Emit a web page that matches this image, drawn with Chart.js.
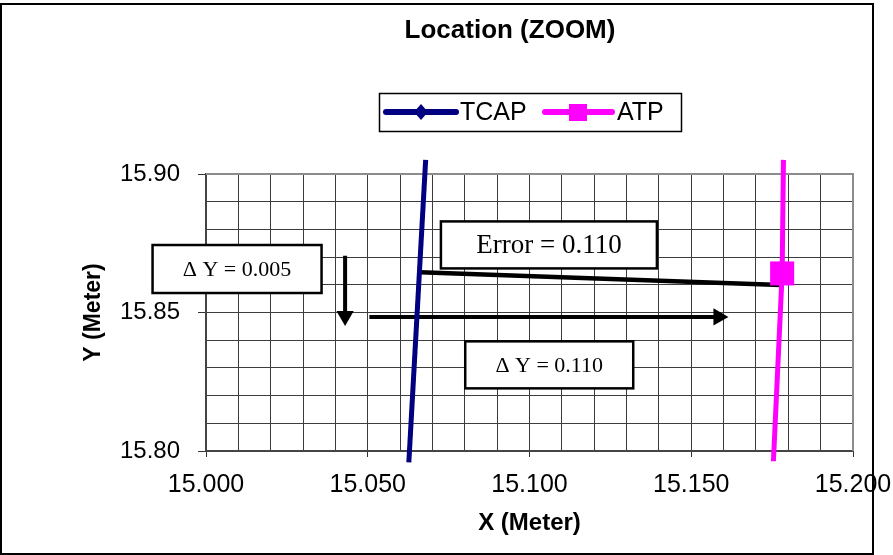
<!DOCTYPE html>
<html>
<head>
<meta charset="utf-8">
<script src="https://cdn.jsdelivr.net/npm/chart.js@4/dist/chart.umd.min.js"></script>
<style>
  html, body { margin: 0; padding: 0; background: #fff; }
  canvas { display: block; }
</style>
</head>
<body>
<canvas id="chart" width="893" height="555"></canvas>
<script>
// ─── Data ──────────────────────────────────────────────
const CHART_TITLE = "Location (ZOOM)";
const SERIES_NAMES = ["TCAP", "ATP"];

const tcapX = [15.0627, 15.0679];
const tcapY = [15.7959, 15.9051];

const atpX = [15.1754, 15.1781, 15.1785];
const atpY = [15.7963, 15.8641, 15.9051];

// error segment TCAP -> ATP
const errX = [15.0662, 15.1775];
const errY = [15.8645, 15.8599];

// arrows: start -> head centre
const arrowDownX = [15.0430, 15.0430];
const arrowDownY = [15.8705, 15.8487];
const arrowRightX = [15.0505, 15.1584];
const arrowRightY = [15.8484, 15.8484];

// text boxes (centre in data units)
const noteText = ["\u0394 Y = 0.005", "Error = 0.110", "\u0394 Y = 0.110"];
const noteX = [15.0096, 15.1060, 15.1061];
const noteY = [15.8657, 15.8744, 15.8311];

const X_MIN = 15.0, X_MAX = 15.2;
const Y_MIN = 15.8, Y_MAX = 15.9;

// ─── Styles ────────────────────────────────────────────
const SANS = "'Liberation Sans', Arial, sans-serif";
const SERIF = "'Liberation Serif', 'Times New Roman', serif";
const NAVY = "#000080";
const MAGENTA = "#ff00ff";
const noteSize = [[169, 48, 22], [216, 47, 27], [168, 47, 22]]; // w, h, font px

const pts = (xs, ys) => xs.map((x, i) => ({ x, y: ys[i] }));

// ─── Plugins ───────────────────────────────────────────
const frame = {
  id: "frame",
  beforeDraw(chart) {
    const c = chart.ctx;
    c.save();
    c.fillStyle = "#fff";
    c.fillRect(0, 0, chart.width, chart.height);
    c.restore();
  },
  beforeDatasetsDraw(chart) {
    const c = chart.ctx, a = chart.chartArea;
    c.save();
    // grey plot border (top / right)
    c.strokeStyle = "#8c8c8c";
    c.lineWidth = 2;
    c.beginPath();
    c.moveTo(a.left, a.top);
    c.lineTo(a.right, a.top);
    c.lineTo(a.right, a.bottom);
    c.stroke();
    // note boxes
    const xs = chart.scales.x, ys = chart.scales.y;
    noteText.forEach((t, i) => {
      const [w, h, fs] = noteSize[i];
      const cx = xs.getPixelForValue(noteX[i]);
      const cy = ys.getPixelForValue(noteY[i]);
      c.fillStyle = "#fff";
      c.fillRect(cx - w / 2, cy - h / 2, w, h);
      c.strokeStyle = "#000";
      c.lineWidth = 2.5;
      c.strokeRect(cx - w / 2, cy - h / 2, w, h);
      c.fillStyle = "#000";
      c.font = fs + "px " + SERIF;
      c.textAlign = "center";
      c.textBaseline = "middle";
      c.fillText(t, cx, cy + 1);
    });
    c.restore();
  },
  afterDraw(chart) {
    const c = chart.ctx;
    c.save();
    // outer chart border
    c.strokeStyle = "#000";
    c.lineWidth = 2;
    c.strokeRect(1, 4, 872, 550);

    // title
    c.fillStyle = "#000";
    c.font = "bold 26px " + SANS;
    c.textAlign = "center";
    c.textBaseline = "middle";
    c.fillText(CHART_TITLE, 510, 31);

    // legend
    c.lineWidth = 1.5;
    c.strokeRect(379.5, 93.5, 302, 38);
    c.lineCap = "round";
    c.lineWidth = 6;
    c.strokeStyle = NAVY;
    c.beginPath(); c.moveTo(386, 112); c.lineTo(456, 112); c.stroke();
    c.fillStyle = NAVY;
    c.beginPath();
    c.moveTo(421, 104); c.lineTo(428, 112); c.lineTo(421, 120); c.lineTo(414, 112);
    c.closePath(); c.fill();
    c.strokeStyle = MAGENTA;
    c.beginPath(); c.moveTo(545, 112); c.lineTo(612, 112); c.stroke();
    c.fillStyle = MAGENTA;
    c.fillRect(569, 104, 18, 17);
    c.fillStyle = "#000";
    c.font = "25px " + SANS;
    c.textAlign = "left";
    c.fillText(SERIES_NAMES[0], 460, 113);
    c.fillText(SERIES_NAMES[1], 617, 113);
    c.restore();
  }
};

// ─── Chart ─────────────────────────────────────────────
const lineBase = { showLine: true, pointRadius: 0, borderCapStyle: "butt", clip: false };

new Chart(document.getElementById("chart"), {
  type: "scatter",
  data: {
    datasets: [
      { ...lineBase, label: SERIES_NAMES[0], data: pts(tcapX, tcapY),
        borderColor: NAVY, borderWidth: 5 },
      { ...lineBase, label: SERIES_NAMES[1], data: pts(atpX, atpY),
        borderColor: MAGENTA, borderWidth: 5,
        pointRadius: [0, 17, 0], pointStyle: "rect",
        pointBackgroundColor: MAGENTA, pointBorderWidth: 0 },
      { ...lineBase, label: "err", data: pts(errX, errY),
        borderColor: "#000", borderWidth: 4.5 },
      { ...lineBase, label: "dy1", data: pts(arrowDownX, arrowDownY),
        borderColor: "#000", borderWidth: 4,
        pointRadius: [0, 10], pointStyle: "triangle", pointRotation: 180,
        pointBackgroundColor: "#000", pointBorderWidth: 0 },
      { ...lineBase, label: "dy2", data: pts(arrowRightX, arrowRightY),
        borderColor: "#000", borderWidth: 4,
        pointRadius: [0, 10], pointStyle: "triangle", pointRotation: 90,
        pointBackgroundColor: "#000", pointBorderWidth: 0 },
    ],
  },
  options: {
    responsive: false,
    animation: false,
    devicePixelRatio: 1,
    layout: { padding: { left: 0, right: 40, top: 174, bottom: 0 } },
    plugins: {
      legend: { display: false },
      tooltip: { enabled: false },
      title: { display: false },
    },
    scales: {
      x: {
        type: "linear",
        min: X_MIN, max: X_MAX,
        afterFit: (s) => { s.height = 104; s.paddingLeft = 0; s.paddingRight = 0; },
        ticks: {
          count: 21,
          autoSkip: false,
          maxRotation: 0,
          padding: 13,
          color: "#000",
          font: { family: SANS, size: 25 },
          callback: (v, i) => (i % 5 === 0 ? v.toFixed(3) : ""),
        },
        grid: {
          color: "#3c3c3c",
          lineWidth: 1,
          tickLength: 6,
          tickColor: (ctx) => (ctx.index % 5 === 0 ? "#333" : "rgba(0,0,0,0)"),
        },
        border: { color: "#444", width: 2 },
        title: {
          display: true,
          text: "X (Meter)",
          color: "#000",
          font: { family: SANS, size: 24, weight: "bold" },
          padding: { top: 0, bottom: 17 },
        },
      },
      y: {
        type: "linear",
        min: Y_MIN, max: Y_MAX,
        afterFit: (s) => { s.width = 206; s.paddingTop = 0; s.paddingBottom = 0; },
        ticks: {
          count: 11,
          autoSkip: false,
          padding: 18,
          color: "#000",
          font: { family: SANS, size: 24 },
          callback: (v, i) => (i % 5 === 0 ? v.toFixed(2) : ""),
        },
        grid: {
          color: "#3c3c3c",
          lineWidth: 1,
          tickLength: 8,
          tickColor: (ctx) => (ctx.index % 5 === 0 ? "#333" : "rgba(0,0,0,0)"),
        },
        border: { color: "#444", width: 2 },
        title: {
          display: true,
          text: "Y (Meter)",
          color: "#000",
          font: { family: SANS, size: 23, weight: "bold" },
          padding: { top: 80, bottom: 0 },
        },
      },
    },
  },
  plugins: [frame],
});
</script>
</body>
</html>
